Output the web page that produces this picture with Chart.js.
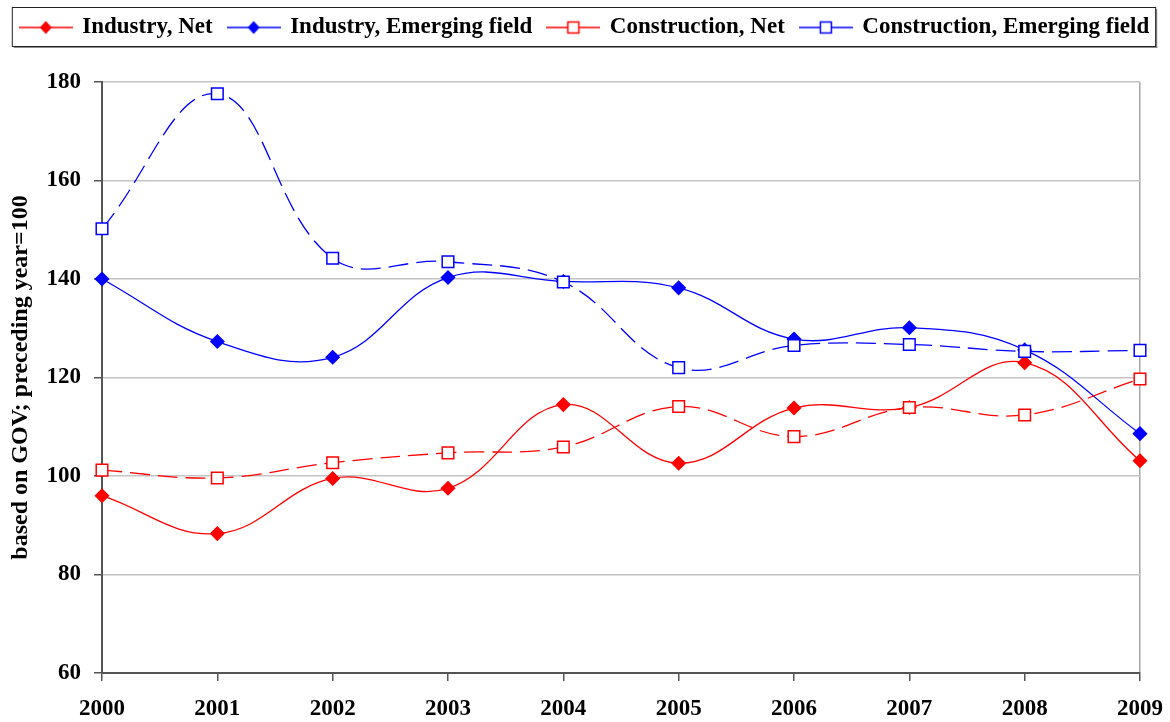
<!DOCTYPE html>
<html>
<head>
<meta charset="utf-8">
<title>Growth indices</title>
<script src="https://cdn.jsdelivr.net/npm/chart.js@4"></script>
<style>
  html, body { margin: 0; padding: 0; background: #fff; }
  canvas { display: block; }
</style>
</head>
<body>
<canvas id="chart" width="1170" height="722"></canvas>
<script>
// growth indices, preceding year = 100
const years = ['2000', '2001', '2002', '2003', '2004', '2005', '2006', '2007', '2008', '2009'];
const industryNet = [96.0, 88.3, 99.5, 97.5, 114.5, 102.6, 113.8, 113.9, 123.0, 103.1];
const industryEmerging = [140.0, 127.3, 124.1, 140.3, 139.5, 138.2, 127.8, 130.1, 125.6, 108.6];
const constructionNet = [101.2, 99.6, 102.7, 104.7, 105.9, 114.1, 108.0, 113.9, 112.4, 119.7];
const constructionEmerging = [150.2, 177.6, 144.2, 143.5, 139.4, 122.0, 126.5, 126.7, 125.3, 125.5];
const seriesNames = ['Industry, Net', 'Industry, Emerging field', 'Construction, Net', 'Construction, Emerging field'];
const yMin = 60, yMax = 180, yStep = 20;

const RED = '#ff0000';
const BLUE = '#0000ff';
const FONT = 'Liberation Serif';

// small "line + marker" images for the legend
function legendIcon(color, filled) {
  const c = document.createElement('canvas');
  c.width = 54; c.height = 18;
  const g = c.getContext('2d');
  g.strokeStyle = color;
  g.lineWidth = 1.4;
  g.beginPath();
  g.moveTo(0, 9); g.lineTo(54, 9);
  g.stroke();
  if (filled) {
    g.fillStyle = color;
    g.beginPath();
    g.moveTo(27, 2.5); g.lineTo(33, 9); g.lineTo(27, 15.5); g.lineTo(21, 9);
    g.closePath();
    g.fill();
  } else {
    g.fillStyle = '#fff';
    g.fillRect(21.5, 3.5, 11, 11);
    g.lineWidth = 1.5;
    g.strokeRect(21.5, 3.5, 11, 11);
  }
  return c;
}
const icons = [legendIcon(RED, true), legendIcon(BLUE, true), legendIcon(RED, false), legendIcon(BLUE, false)];

function series(label, data, color, filled, order) {
  return {
    label: label,
    data: data,
    borderColor: color,
    backgroundColor: color,
    borderWidth: 1.3,
    borderDash: filled ? [] : [20, 8],
    tension: 0.4,
    pointStyle: filled ? 'rectRot' : 'rect',
    pointRadius: filled ? 6.5 : 8.2,
    pointBorderWidth: 1.5,
    pointBackgroundColor: filled ? color : '#ffffff',
    pointBorderColor: color,
    order: order,
  };
}

// fixed legend band height and a framed legend box
const legendFrame = {
  id: 'legendFrame',
  beforeLayout(chart) {
    const lg = chart.legend;
    if (lg && !lg._fixed) {
      const fit = lg.fit.bind(lg);
      lg.fit = function () { fit(); this.height = 82; };
      lg._fixed = true;
    }
  },
  afterDraw(chart) {
    const hb = chart.legend && chart.legend.legendHitBoxes;
    if (!hb || !hb.length) return;
    const last = hb[hb.length - 1];
    const x = hb[0].left - 9, y = hb[0].top - 9;
    const w = last.left + last.width + 6 - x, h = hb[0].height + 16;
    const ctx = chart.ctx;
    ctx.save();
    ctx.fillStyle = '#8c8c8c';
    ctx.fillRect(x + 2, y + h, w, 2);
    ctx.fillRect(x + w, y + 2, 2, h);
    ctx.strokeStyle = '#222';
    ctx.lineWidth = 1;
    ctx.strokeRect(x + 0.5, y + 0.5, w, h);
    ctx.restore();
  }
};

new Chart(document.getElementById('chart'), {
  type: 'line',
  data: {
    labels: years,
    datasets: [
      series(seriesNames[0], industryNet, RED, true, 1),
      series(seriesNames[1], industryEmerging, BLUE, true, 1),
      series(seriesNames[2], constructionNet, RED, false, 0),
      series(seriesNames[3], constructionEmerging, BLUE, false, 0),
    ],
  },
  options: {
    responsive: false,
    animation: false,
    layout: { padding: 0 },
    plugins: {
      tooltip: { enabled: false },
      legend: {
        position: 'top',
        labels: {
          usePointStyle: true,
          pointStyleWidth: 50,
          padding: 16,
          color: '#000',
          font: { family: FONT, size: 23, weight: 'bold' },
          generateLabels(chart) {
            return chart.data.datasets.map((ds, i) => ({
              text: ds.label,
              datasetIndex: i,
              pointStyle: icons[i],
              fillStyle: ds.borderColor,
              strokeStyle: ds.borderColor,
              lineWidth: 0,
              fontColor: '#000',
              hidden: false,
            }));
          },
        },
      },
    },
    scales: {
      x: {
        type: 'category',
        offset: false,
        afterFit(scale) {
          scale.height = 49;
          scale.paddingLeft = 0;
          scale.paddingRight = 30;
        },
        border: { display: true, color: '#555', width: 2 },
        grid: {
          drawOnChartArea: true,
          color: ctx => (ctx.index === years.length - 1 ? '#a6a6a6' : 'rgba(0,0,0,0)'),
          tickColor: '#555',
          tickLength: 8,
          lineWidth: 1.5,
        },
        ticks: {
          color: '#000',
          padding: 14,
          maxRotation: 0,
          font: { family: FONT, size: 23, weight: 'bold' },
        },
      },
      y: {
        min: yMin,
        max: yMax,
        afterFit(scale) { scale.width = 102; },
        border: { display: true, color: '#555', width: 2 },
        grid: {
          color: '#c4c4c4',
          tickColor: '#555',
          tickLength: 8,
          lineWidth: 1.5,
        },
        ticks: {
          stepSize: yStep,
          color: '#000',
          padding: 13,
          font: { family: FONT, size: 23, weight: 'bold' },
        },
        title: {
          display: true,
          text: 'based on GOV; preceding year=100',
          color: '#000',
          padding: { top: 6, bottom: 0 },
          font: { family: FONT, size: 24, weight: 'bold' },
        },
      },
    },
  },
  plugins: [legendFrame],
});
</script>
</body>
</html>
